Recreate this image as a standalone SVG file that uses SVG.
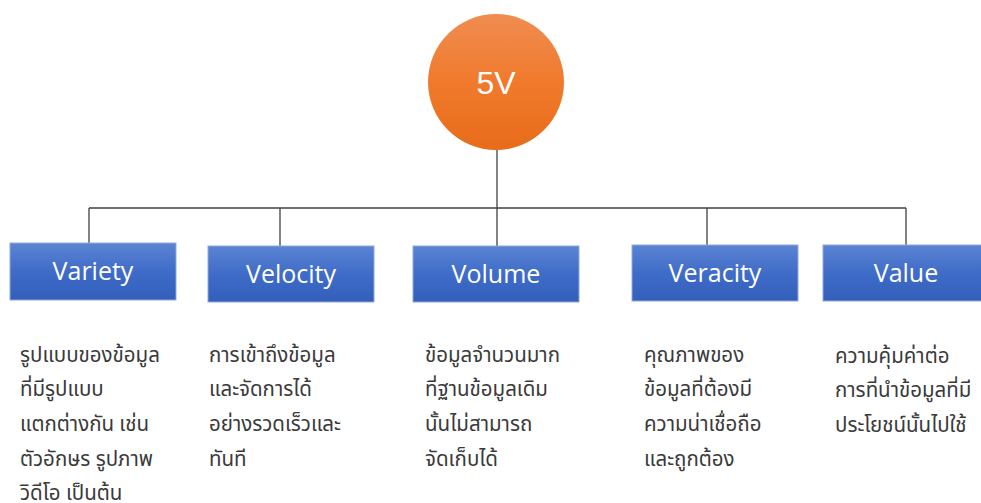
<svg xmlns="http://www.w3.org/2000/svg" width="981" height="503" viewBox="0 0 981 503">
<defs>
<linearGradient id="gBlue" x1="0" y1="0" x2="0" y2="1">
<stop offset="0" stop-color="#5b84d2"/>
<stop offset="0.5" stop-color="#3f6cc8"/>
<stop offset="1" stop-color="#335fbb"/>
</linearGradient>
<linearGradient id="gOrange" x1="0" y1="0" x2="0" y2="1">
<stop offset="0" stop-color="#f08d52"/>
<stop offset="0.5" stop-color="#f07a2c"/>
<stop offset="1" stop-color="#e86c1a"/>
</linearGradient>
<style>
.box{fill:url(#gBlue);stroke:#8eaadc;stroke-width:1}
.lbl{font-family:"Open Sans","Noto Sans","DejaVu Sans",sans-serif;font-size:25px;fill:#ffffff;text-anchor:middle}
.desc{font-family:"Noto Sans Thai","Noto Sans","DejaVu Sans",sans-serif;font-size:20.5px;fill:#3a3a3a}
.conn{stroke:#404040;stroke-width:1.3;fill:none}
</style>
</defs>
<rect width="981" height="503" fill="#ffffff"/>
<g id="connectors">
<line class="conn" x1="497" y1="150" x2="497" y2="208"/>
<line class="conn" x1="89" y1="208" x2="906" y2="208"/>
<line class="conn" x1="89" y1="208" x2="89" y2="243"/>
<line class="conn" x1="280" y1="208" x2="280" y2="246"/>
<line class="conn" x1="497" y1="208" x2="497" y2="246"/>
<line class="conn" x1="707" y1="208" x2="707" y2="245"/>
<line class="conn" x1="906" y1="208" x2="906" y2="245"/>
</g>
<g id="root">
<circle cx="496" cy="82" r="68" fill="url(#gOrange)"/>
<text x="496" y="94" font-family="Liberation Sans, Arial, sans-serif" font-size="32" fill="#ffffff" text-anchor="middle">5V</text>
</g>
<g id="variety">
<rect class="box" x="10" y="243" width="166" height="57"/>
<text class="lbl" x="93" y="280">Variety</text>
<text class="desc"><tspan x="20" y="362">รูปแบบของข้อมูล</tspan><tspan x="20" y="396">ที่มีรูปแบบ</tspan><tspan x="20" y="431">แตกต่างกัน เช่น</tspan><tspan x="20" y="466">ตัวอักษร รูปภาพ</tspan><tspan x="20" y="500">วิดีโอ เป็นต้น</tspan></text>
</g>
<g id="velocity">
<rect class="box" x="208" y="246" width="166" height="56"/>
<text class="lbl" x="291" y="283">Velocity</text>
<text class="desc"><tspan x="209" y="362">การเข้าถึงข้อมูล</tspan><tspan x="209" y="396">และจัดการได้</tspan><tspan x="209" y="431">อย่างรวดเร็วและ</tspan><tspan x="209" y="466">ทันที</tspan></text>
</g>
<g id="volume">
<rect class="box" x="413" y="246" width="166" height="56"/>
<text class="lbl" x="496" y="283">Volume</text>
<text class="desc"><tspan x="425" y="362">ข้อมูลจำนวนมาก</tspan><tspan x="425" y="396">ที่ฐานข้อมูลเดิม</tspan><tspan x="425" y="431">นั้นไม่สามารถ</tspan><tspan x="425" y="466">จัดเก็บได้</tspan></text>
</g>
<g id="veracity">
<rect class="box" x="632" y="245" width="166" height="56"/>
<text class="lbl" x="715" y="282">Veracity</text>
<text class="desc"><tspan x="644" y="362">คุณภาพของ</tspan><tspan x="644" y="396">ข้อมูลที่ต้องมี</tspan><tspan x="644" y="431">ความน่าเชื่อถือ</tspan><tspan x="644" y="466">และถูกต้อง</tspan></text>
</g>
<g id="value">
<rect class="box" x="823" y="245" width="166" height="56"/>
<text class="lbl" x="906" y="282">Value</text>
<text class="desc"><tspan x="835" y="363">ความคุ้มค่าต่อ</tspan><tspan x="835" y="397">การที่นำข้อมูลที่มี</tspan><tspan x="835" y="432">ประโยชน์นั้นไปใช้</tspan></text>
</g>
</svg>
